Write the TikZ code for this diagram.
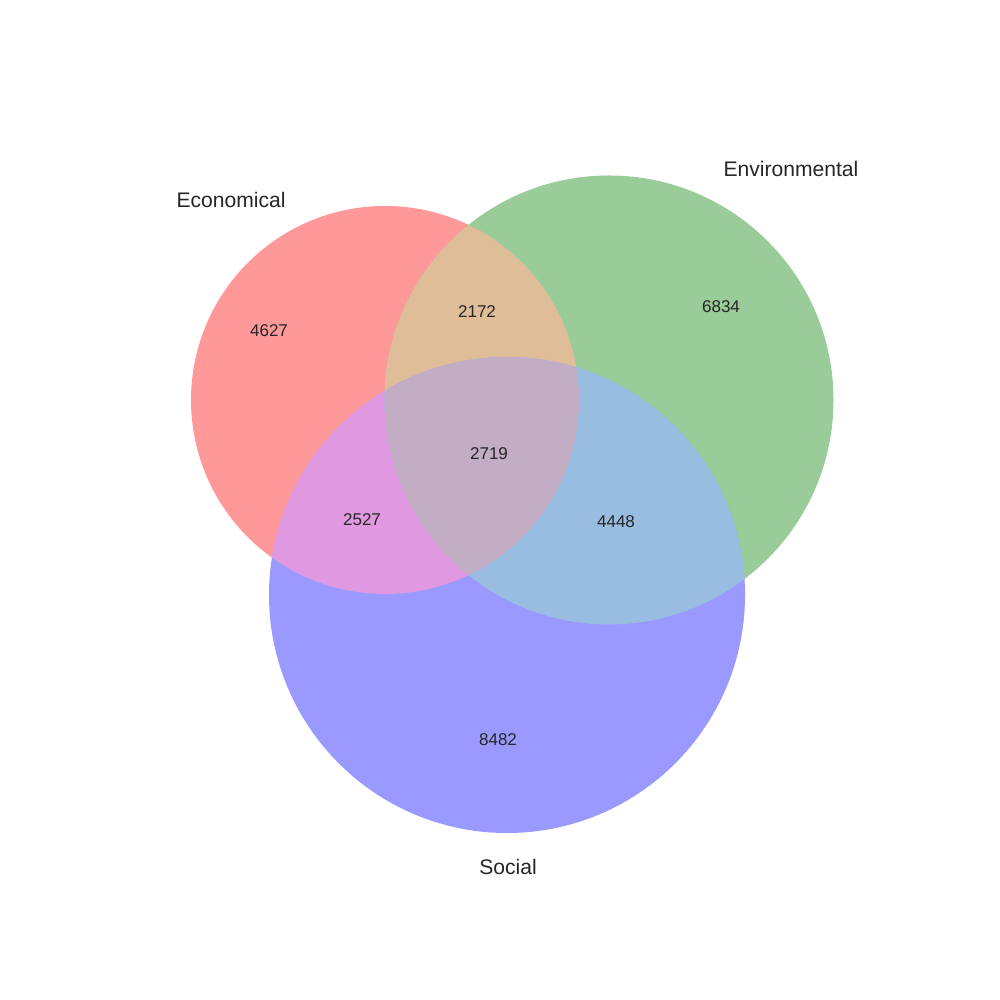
\documentclass[tikz,border=0pt]{standalone}
\usepackage{fontspec}
\setmainfont{Liberation Sans}
\usepackage{xcolor}
\usepackage{tikz}
\usetikzlibrary{positioning}

\definecolor{ecofill}{RGB}{255,153,153}
\definecolor{envfill}{RGB}{153,204,153}
\definecolor{socfill}{RGB}{153,153,255}
\definecolor{ecoenv}{RGB}{224,189,153}
\definecolor{ecosoc}{RGB}{224,153,224}
\definecolor{envsoc}{RGB}{153,189,224}
\definecolor{allthree}{RGB}{194,173,196}
\definecolor{txt}{RGB}{38,38,38}

\begin{document}
\begin{tikzpicture}[
    setlabel/.style={font=\fontsize{6}{7}\selectfont, text=txt, inner sep=0pt},
    count/.style={font=\fontsize{4.85}{6}\selectfont, text=txt, inner sep=0pt}
]
    \useasboundingbox (0,0) rectangle (10,10);

    \coordinate (eco) at (3.85,6.00);
    \coordinate (env) at (6.09,6.00);
    \coordinate (soc) at (5.07,4.05);

    % single sets
    \fill[ecofill] (eco) circle (1.94);
    \fill[envfill] (env) circle (2.245);
    \fill[socfill] (soc) circle (2.38);

    % pairwise overlaps
    \begin{scope}
        \clip (eco) circle (1.94);
        \fill[ecoenv] (env) circle (2.245);
        \fill[ecosoc] (soc) circle (2.38);
    \end{scope}
    \begin{scope}
        \clip (env) circle (2.245);
        \fill[envsoc] (soc) circle (2.38);
        \clip (soc) circle (2.38);
        \fill[allthree] (eco) circle (1.94);
    \end{scope}

    % set names
    \node[setlabel] (econame) at (2.31,8.00) {Economical};
    \node[setlabel] (envname) at (7.91,8.31) {Environmental};
    \node[setlabel] (socname) at (5.08,1.33) {Social};

    % region sizes
    \node[count] (n100) at (2.69,6.69) {4627};
    \node[count] (n010) at (7.21,6.93) {6834};
    \node[count] (n001) at (4.98,2.60) {8482};
    \node[count] (n110) at (4.77,6.88) {2172};
    \node[count] (n101) at (3.62,4.80) {2527};
    \node[count] (n011) at (6.16,4.78) {4448};
    \node[count] (n111) at (4.89,5.46) {2719};
\end{tikzpicture}
\end{document}
